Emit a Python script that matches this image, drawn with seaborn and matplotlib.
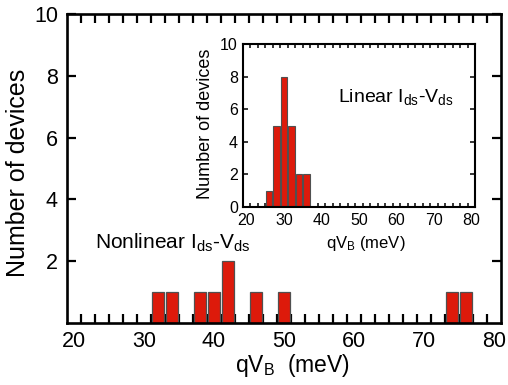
import numpy as np
import pandas as pd
import matplotlib
matplotlib.use("Agg")
import matplotlib.pyplot as plt
from matplotlib.ticker import FixedLocator, NullFormatter
import seaborn as sns

# ---- data ----
nonlinear_qvb = [32, 34, 38, 40, 42, 46, 50, 74, 76]
nonlinear_counts = [1, 1, 1, 1, 2, 1, 1, 1, 1]
linear_qvb = [26, 28, 30, 32, 34, 36]
linear_counts = [1, 5, 8, 5, 2, 2]
x_labels = [20, 30, 40, 50, 60, 70, 80]
main_yticks = [2, 4, 6, 8, 10]
inset_yticks = [0, 2, 4, 6, 8, 10]

sns.set_style("ticks")
plt.rcParams["font.family"] = ["Liberation Sans", "DejaVu Sans"]
plt.rcParams["mathtext.fontset"] = "custom"
plt.rcParams["mathtext.rm"] = "Liberation Sans"
plt.rcParams["mathtext.it"] = "Liberation Sans:italic"
plt.rcParams["mathtext.default"] = "regular"
for k in ["text.color", "axes.labelcolor", "xtick.color", "ytick.color",
          "xtick.labelcolor", "ytick.labelcolor"]:
    plt.rcParams[k] = "black"

BAR = "#DD1A0B"
EDGE = "#505050"

fig = plt.figure(figsize=(5.08, 3.85), dpi=100)
ax = fig.add_axes([67/508, (385-323)/385, (501-67)/508, (323-14)/385])
ins = fig.add_axes([242.7/508, (385-207)/385, (475-242.7)/508, (207-44)/385])

df_main = pd.DataFrame({"qVB": nonlinear_qvb, "count": nonlinear_counts})
df_lin = pd.DataFrame({"qVB": linear_qvb, "count": linear_counts})

sns.barplot(data=df_main, x="qVB", y="count", native_scale=True, orient="x",
            width=0.8, color=BAR, saturation=1, edgecolor=EDGE, linewidth=0.9,
            errorbar=None, ax=ax)
sns.barplot(data=df_lin, x="qVB", y="count", native_scale=True, orient="x",
            width=0.85, color=BAR, saturation=1, edgecolor=EDGE, linewidth=0.8,
            errorbar=None, ax=ins)

odd_ticks = list(range(21, 80, 2))

# main axes
ax.set_xlim(19, 81)
ax.set_ylim(0, 10)
ax.xaxis.set_major_locator(FixedLocator(x_labels))
ax.xaxis.set_minor_locator(FixedLocator(odd_ticks))
ax.xaxis.set_minor_formatter(NullFormatter())
ax.set_yticks(main_yticks)
ax.tick_params(axis="x", which="major", length=0, pad=6, labelsize=15.5)
ax.tick_params(axis="x", which="minor", direction="in", length=6.5, width=1.6,
               top=True, bottom=True, color="black")
ax.tick_params(axis="y", which="major", direction="in", length=6.5, width=1.6,
               left=True, right=True, pad=6.5, labelsize=15.5, color="black")
for s in ax.spines.values():
    s.set_visible(True)
    s.set_linewidth(1.9)
    s.set_color("black")
ax.set_xlabel(r"qV$_{\rm B}$  (meV)", fontsize=16.5)
ax.set_ylabel("Number of devices", fontsize=18)
ax.xaxis.set_label_coords(0.519, -0.095)
ax.yaxis.set_label_coords(-0.085, 0.487)
ax.text(23.0, 2.6, r"Nonlinear I$_{\rm ds}$-V$_{\rm ds}$", fontsize=15,
        ha="left", va="center")

# inset axes
ins.set_xlim(19, 81)
ins.set_ylim(0, 10)
ins.xaxis.set_major_locator(FixedLocator(x_labels))
ins.xaxis.set_minor_locator(FixedLocator(odd_ticks))
ins.xaxis.set_minor_formatter(NullFormatter())
ins.set_yticks(inset_yticks)
ins.tick_params(axis="x", which="major", length=0, pad=4.5, labelsize=11.5)
ins.tick_params(axis="x", which="minor", direction="in", length=3, width=1.1,
                top=True, bottom=True, color="black")
ins.tick_params(axis="y", which="major", direction="in", length=3.5, width=1.1,
                left=True, right=True, pad=3.5, labelsize=11.5, color="black")
for s in ins.spines.values():
    s.set_visible(True)
    s.set_linewidth(1.5)
    s.set_color("black")
ins.set_xlabel(r"qV$_{\rm B}$ (meV)", fontsize=12)
ins.set_ylabel("Number of devices", fontsize=13)
ins.xaxis.set_label_coords(0.531, -0.165)
ins.yaxis.set_label_coords(-0.124, 0.51)
ins.text(44.4, 6.75, r"Linear I$_{\rm ds}$-V$_{\rm ds}$", fontsize=14,
         ha="left", va="center")

fig.savefig("out.png", dpi=100)
